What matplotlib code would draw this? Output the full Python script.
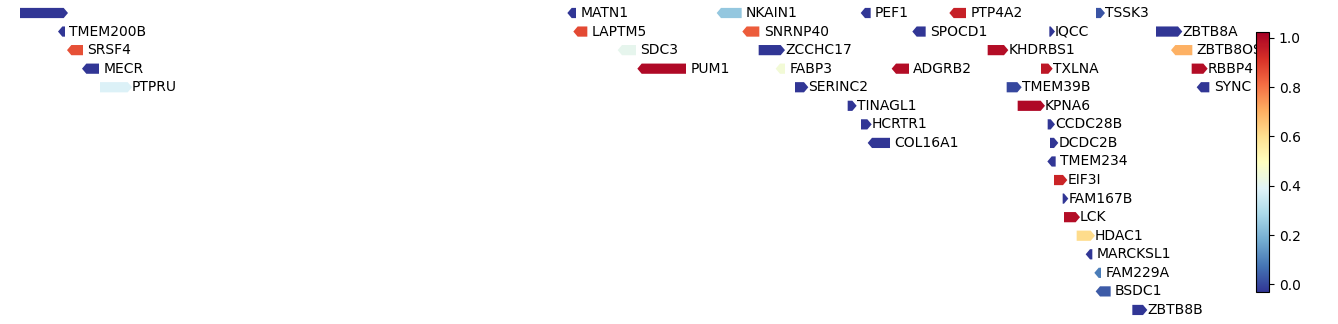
import numpy as np
import matplotlib
matplotlib.use("Agg")
import matplotlib.pyplot as plt
from matplotlib.patches import FancyArrow
from matplotlib.colors import Normalize
from matplotlib.cm import ScalarMappable

# genes in the window (chr1), coordinates in bp
genes = ["", "TMEM200B", "SRSF4", "MECR", "PTPRU",
         "MATN1", "LAPTM5", "SDC3", "PUM1", "NKAIN1", "SNRNP40", "ZCCHC17",
         "FABP3", "SERINC2", "TINAGL1", "HCRTR1", "PEF1", "COL16A1", "ADGRB2",
         "SPOCD1", "PTP4A2", "KHDRBS1", "TMEM39B", "KPNA6", "TXLNA", "CCDC28B",
         "IQCC", "DCDC2B", "TMEM234", "EIF3I", "FAM167B", "LCK", "HDAC1",
         "MARCKSL1", "FAM229A", "BSDC1", "TSSK3", "ZBTB8B", "ZBTB8A", "ZBTB8OS",
         "RBBP4", "SYNC"]
starts = [28960000, 29087000, 29114000, 29159000, 29200000,
          30615000, 30633000, 30766000, 30825000, 31063000, 31140000, 31176000,
          31240000, 31285000, 31443000, 31483000, 31495000, 31516000, 31588000,
          31650000, 31761000, 31863000, 31920000, 31953000, 32023000, 32043000,
          32048000, 32050000, 32055000, 32062000, 32088000, 32092000, 32130000,
          32170000, 32196000, 32200000, 32188000, 32297000, 32368000, 32426000,
          32475000, 32503000]
ends = [29091000, 29095000, 29149000, 29197000, 29283000,
        30628000, 30662000, 30808000, 30958000, 31125000, 31178000, 31242000,
        31255000, 31312000, 31457000, 31502000, 31512000, 31570000, 31627000,
        31677000, 31798000, 31912000, 31952000, 32022000, 32045000, 32052000,
        32052000, 32062000, 32067000, 32089000, 32092000, 32127000, 32172000,
        32177000, 32203000, 32232000, 32202000, 32329000, 32434000, 32477000,
        32510000, 32528000]
strand = ["+", "-", "-", "-", "+",
          "-", "-", "-", "-", "-", "-", "+",
          "-", "+", "+", "+", "-", "-", "-",
          "-", "-", "+", "+", "+", "+", "+",
          "+", "+", "-", "+", "+", "+", "+",
          "-", "-", "-", "+", "+", "+", "-",
          "+", "-"]
track = [0, 1, 2, 3, 4,
         0, 1, 2, 3, 0, 1, 2,
         3, 4, 5, 6, 0, 7, 3,
         1, 0, 2, 4, 5, 3, 6,
         1, 7, 8, 9, 10, 11, 12,
         13, 14, 15, 0, 16, 1, 2,
         3, 4]
score = [-0.03, -0.03, 0.86, -0.03, 0.38,
         -0.03, 0.87, 0.41, 1.0, 0.24, 0.84, -0.03,
         0.45, -0.03, -0.03, -0.03, -0.03, -0.03, 0.99,
         -0.03, 0.95, 0.99, 0.0, 1.0, 0.97, -0.03,
         -0.03, -0.03, -0.03, 0.94, -0.03, 0.99, 0.61,
         -0.03, 0.09, 0.03, 0.02, -0.03, -0.03, 0.7,
         0.99, -0.03]

x0 = 28900000
bp_per_px = 3000
head = 13000
gap = 13000
row_px = 18.56
top_px = 13

fig = plt.figure(figsize=(13.38, 3.24), dpi=100)
ax = fig.add_axes([0, 0, 1, 1])

cmap = plt.get_cmap("RdYlBu_r")
norm = Normalize(vmin=-0.032, vmax=1.022)

for g, s, e, st, r, v in zip(genes, starts, ends, strand, track, score):
    if st == "+":
        arr = FancyArrow(s, r, e - s, 0, width=0.55, head_width=0.55,
                         head_length=head, length_includes_head=False,
                         color=cmap(norm(v)), lw=0)
    else:
        arr = FancyArrow(e, r, -(e - s), 0, width=0.55, head_width=0.55,
                         head_length=head, length_includes_head=False,
                         color=cmap(norm(v)), lw=0)
    ax.add_patch(arr)
    ax.text(e + gap, r, g, ha="left", va="center", fontsize=10)

ax.set_xlim(x0, x0 + 1338 * bp_per_px)
ax.set_ylim((324 - top_px) / row_px, -top_px / row_px)
ax.axis("off")

cax = fig.add_axes([1255.7 / 1338, (324 - 292.3) / 324, 13.3 / 1338, 260.0 / 324])
sm = ScalarMappable(norm=norm, cmap=cmap)
cb = fig.colorbar(sm, cax=cax)
cb.set_ticks([0.0, 0.2, 0.4, 0.6, 0.8, 1.0])

fig.savefig("out.png", dpi=100)
